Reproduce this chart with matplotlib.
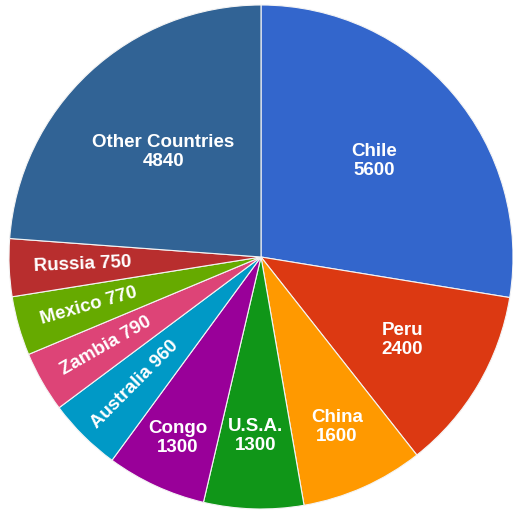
import matplotlib
matplotlib.use("Agg")
import matplotlib.pyplot as plt
import numpy as np

plt.rcParams["font.family"] = ["Liberation Sans", "DejaVu Sans"]

# copper production by country (thousand tonnes)
countries = ["Chile", "Peru", "China", "U.S.A.", "Congo", "Australia",
             "Zambia", "Mexico", "Russia", "Other Countries"]
values = [5600, 2400, 1600, 1300, 1300, 960, 790, 770, 750, 4840]
colors = ["#3366cc", "#dc3912", "#ff9900", "#109618", "#990099", "#0099c6",
          "#dd4477", "#66aa00", "#b82e2e", "#316395"]
# small slices get a one-line label turned along the radius
rotated = {"Australia", "Zambia", "Mexico", "Russia"}

W, H = 513, 511
CX, CY, R = 261, 257, 252

fig = plt.figure(figsize=(W / 100, H / 100), dpi=100, facecolor="white")
ax = fig.add_axes([(CX - R) / W, (H - CY - R) / H, 2 * R / W, 2 * R / H])

wedges, _ = ax.pie(values, colors=colors, startangle=90, counterclock=False,
                   radius=1.0,
                   wedgeprops={"edgecolor": "#f4f4f4", "linewidth": 0.8})

label_r = {"Chile": 0.59, "Peru": 0.65, "China": 0.74, "U.S.A.": 0.71,
           "Congo": 0.79, "Other Countries": 0.57}

for w, name, v in zip(wedges, countries, values):
    mid = np.deg2rad((w.theta1 + w.theta2) / 2)
    if name in rotated:
        r = 0.71
        rot = np.rad2deg(mid) + 180
        txt = f"{name} {v}"
    else:
        r = label_r[name]
        rot = 0
        txt = f"{name}\n{v}"
    ax.text(r * np.cos(mid), r * np.sin(mid), txt, color="white",
            fontsize=13.5, fontweight="bold", ha="center", va="center",
            rotation=rot, rotation_mode="anchor", linespacing=1.15)

ax.set_xlim(-1, 1)
ax.set_ylim(-1, 1)
ax.set_aspect("auto")
ax.axis("off")

fig.savefig("out.png", dpi=100, facecolor="white")
